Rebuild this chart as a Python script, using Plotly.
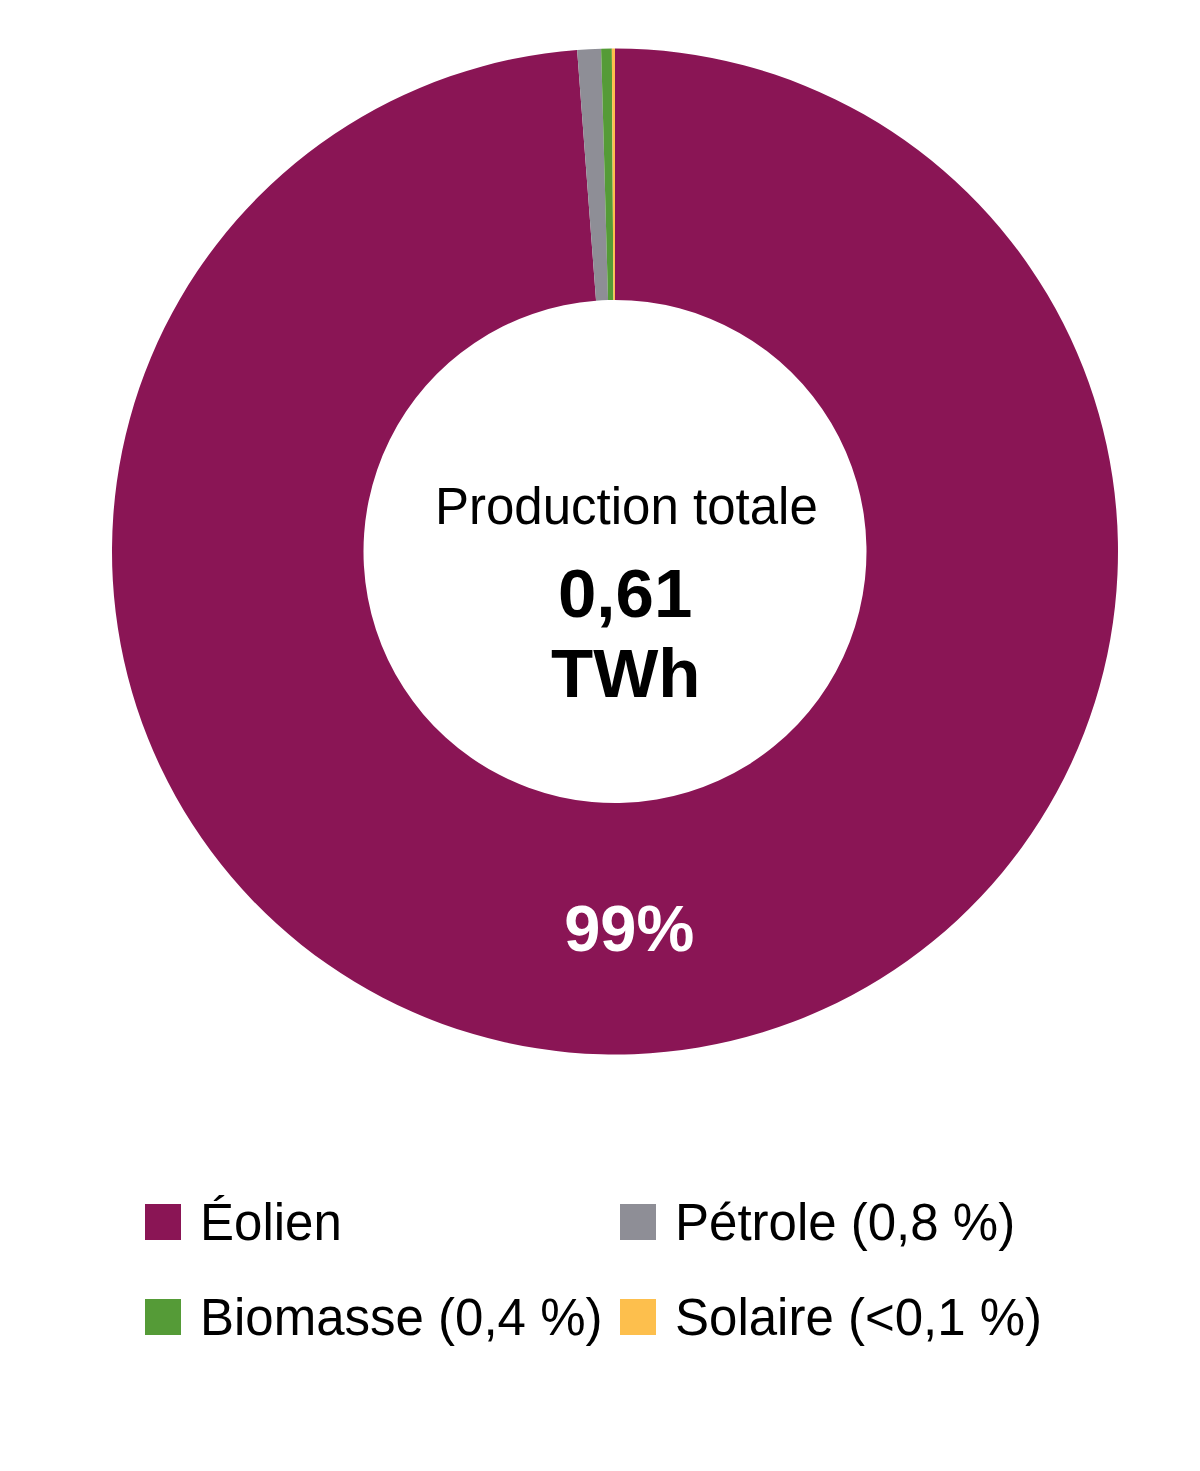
import plotly.graph_objects as go

W, H = 1200, 1471
OFF = 8  # page body margin

labels = ['Éolien', 'Pétrole', 'Biomasse', 'Solaire']
values = [98.8, 0.76, 0.34, 0.1]
slice_text = ['<b>99%</b>', '', '', '']
legend_labels = ['Éolien', 'Pétrole (0,8 %)', 'Biomasse (0,4 %)', 'Solaire (<0,1 %)']
colors = ['#8A1555', '#8E8E96', '#559B37', '#FDBF4D']

total_label = 'Production totale'
total_value = '0,61'
total_unit = 'TWh'

FONT = 'Liberation Sans, Arial, sans-serif'


def px_x(x):
    return (x - OFF) / W


def px_y(y):
    return 1 - (y - OFF) / H


fig = go.Figure()
fig.add_trace(go.Pie(
    labels=labels, values=values, text=slice_text,
    textinfo='text', textposition='inside',
    insidetextorientation='horizontal',
    insidetextfont=dict(family=FONT, size=65, color='white'),
    marker=dict(colors=colors, line=dict(width=0)),
    hole=0.5, sort=False, direction='clockwise', rotation=0,
    showlegend=False, hoverinfo='label+percent',
    domain=dict(x=[px_x(112), px_x(1118)], y=[px_y(1055), px_y(48)]),
))

annotations = [
    dict(text=total_label, x=px_x(626), y=px_y(506), font=dict(family=FONT, size=51, color='black')),
    dict(text='<b>%s</b>' % total_value, x=px_x(625), y=px_y(593), font=dict(family=FONT, size=69, color='black')),
    dict(text='<b>%s</b>' % total_unit, x=px_x(625), y=px_y(673), font=dict(family=FONT, size=69, color='black')),
]
for a in annotations:
    a.update(xref='paper', yref='paper', showarrow=False, xanchor='center', yanchor='middle')

# legend drawn by hand, 2 columns
shapes = []
col_x = [145, 620]
row_y = [1222, 1317]
for i, (lab, col) in enumerate(zip(legend_labels, colors)):
    x0 = col_x[i % 2]
    yc = row_y[i // 2]
    shapes.append(dict(type='rect', xref='paper', yref='paper',
                       x0=px_x(x0), x1=px_x(x0 + 36), y0=px_y(yc + 18), y1=px_y(yc - 18),
                       fillcolor=col, line=dict(width=0)))
    annotations.append(dict(text=lab, xref='paper', yref='paper', showarrow=False,
                            x=px_x(x0 + 53), y=px_y(yc), xanchor='left', yanchor='middle',
                            font=dict(family=FONT, size=51, color='black')))

fig.update_layout(
    width=W, height=H,
    margin={"r": 0, "t": 0, "l": 0, "b": 0},
    paper_bgcolor='white', plot_bgcolor='white',
    annotations=annotations, shapes=shapes,
)
fig.write_html('out.html')
